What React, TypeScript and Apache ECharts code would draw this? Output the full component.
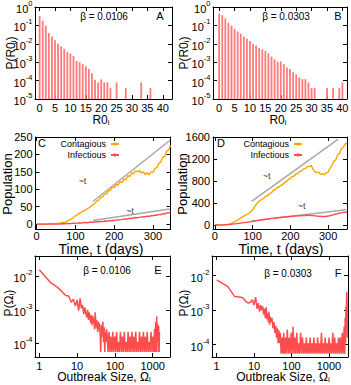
import React, { useEffect, useRef } from 'react';
import * as echarts from 'echarts';

const FONT = '"Liberation Sans", Arial, Helvetica, sans-serif';
const ORANGE = '#ffa500';
const RED = '#ff4d4d';
const BAR = '#ff7b7b';
const GRAY = '#a8a8a8';

// ---------- Panel A : distribution of R0_i, beta = 0.0106 ----------
const aR0 = [0, 1, 2, 3, 4, 5, 6, 7, 8, 9, 10, 11, 12, 13, 14, 15, 16, 17, 18, 19, 20, 21, 22, 23, 25, 28, 33, 36];
const aP = [0.33, 0.18, 0.098, 0.038, 0.025, 0.0155, 0.01, 0.0074, 0.0054, 0.0037, 0.003, 0.0022, 0.00117, 0.001,
  0.00079, 0.0006, 0.00043, 0.00025, 0.000112, 0.00008, 0.000115, 0.00008, 0.00008, 0.00004, 0.00008, 0.00004,
  0.00008, 0.00004];

// ---------- Panel B : distribution of R0_i, beta = 0.0303 ----------
const bR0 = [0, 1, 2, 3, 4, 5, 6, 7, 8, 9, 10, 11, 12, 13, 14, 15, 16, 17, 18, 19, 20, 21, 22, 23, 24, 25, 26, 27, 28,
  29, 30, 31, 35, 37, 39, 40];
const bP = [0.45, 0.36, 0.24, 0.14, 0.098, 0.065, 0.047, 0.035, 0.025, 0.019, 0.014, 0.01, 0.0081, 0.006, 0.005,
  0.0041, 0.003, 0.002, 0.00145, 0.00105, 0.0011, 0.00079, 0.00052, 0.00043, 0.00028, 0.00022, 0.00015, 0.00012,
  0.00012, 0.00008, 0.00004, 0.00004, 0.00004, 0.00004, 0.00004, 0.00008];

// ---------- Panel C : population vs time, beta = 0.0106 ----------
const cDays = [0, 5, 10, 15, 20, 25, 30, 35, 40, 45, 50, 55, 60, 65, 70, 75, 80, 85, 90, 95, 100, 105, 110, 115, 120,
  125, 130, 135, 140, 145, 150, 155, 160, 165, 170, 175, 180, 185, 190, 195, 200, 205, 210, 215, 220, 225, 230, 235,
  240, 245, 250, 255, 260, 265, 270, 275, 280, 285, 290, 295, 300, 305, 310, 315, 320, 325, 330, 335, 340, 345];
const cContagious = [0, 0, 0, 0, 0, 0, 1, 1, 1, 1, 2, 2, 3, 4, 5, 6, 9, 12, 15, 19, 24, 27, 31, 34, 37, 40, 44, 47,
  51, 56, 60, 66, 69, 76, 78, 86, 87, 96, 96, 106, 105, 114, 112, 122, 119, 130, 127, 139, 136, 147, 144, 153, 150,
  154, 147, 150, 142, 147, 142, 150, 148, 160, 162, 175, 178, 192, 194, 210, 212, 226];
const cInfectious = [0, 0, 0, 0, 0, 0, 0, 0, 0, 0, 0, 0, 0, 1, 1, 1, 2, 1, 2, 3, 2, 3, 4, 3, 4, 5, 4, 5, 6, 5, 6, 7,
  6, 8, 7, 9, 8, 10, 9, 11, 10, 12, 12, 13, 13, 15, 14, 16, 16, 17, 17, 19, 18, 20, 20, 21, 21, 23, 22, 24, 24, 26,
  25, 28, 27, 30, 29, 32, 32, 35];
const cGuideUpper = [[145, 65], [343, 240]];
const cGuideLower = [[145, 10.5], [343, 43.6]];
const cTildeAnchors = [[118, 124], [240, 39]];

// ---------- Panel D : population vs time, beta = 0.0303 ----------
const dDays = [0, 5, 10, 15, 20, 25, 30, 35, 40, 45, 50, 55, 60, 65, 70, 75, 80, 85, 90, 95, 100, 105, 110, 115, 120,
  125, 130, 135, 140, 145, 150, 155, 160, 165, 170, 175, 180, 185, 190, 195, 200, 205, 210, 215, 220, 225, 230, 235,
  240, 245, 250, 255, 260, 265, 270, 275, 280, 285, 290, 295, 300, 305, 310, 315, 320, 325, 330, 335, 340, 345, 350];
const dContagious = [0, 0, 0, 0, 1, 2, 4, 8, 15, 30, 48, 68, 88, 110, 132, 152, 172, 190, 212, 240, 275, 330, 375,
  420, 440, 470, 488, 520, 530, 570, 585, 630, 640, 680, 690, 720, 735, 775, 790, 830, 840, 885, 890, 930, 935, 975,
  980, 1020, 1025, 1065, 1060, 1085, 1010, 970, 950, 960, 920, 935, 910, 950, 960, 1030, 1080, 1160, 1180, 1270, 1300,
  1390, 1410, 1470, 1490];
const dInfectious = [0, 0, 0, 0, 1, 2, 4, 6, 9, 12, 18, 19, 27, 27, 36, 36, 45, 45, 55, 55, 65, 66, 77, 78, 88, 88, 99,
  98, 109, 108, 119, 118, 127, 126, 135, 134, 143, 141, 150, 148, 156, 154, 161, 159, 166, 164, 171, 168, 175, 172,
  178, 172, 173, 163, 163, 155, 157, 151, 155, 153, 163, 166, 179, 183, 198, 203, 215, 218, 229, 228, 235];
const dGuideUpper = [[97, 427], [326, 1557]];
const dGuideLower = [[97, 73], [348, 275]];
const dTildeAnchors = [[137, 885], [230, 335]];

// ---------- Panel E : outbreak size distribution, beta = 0.0106 ----------
const eSize = [1, 2, 3, 4, 5, 6, 7, 8, 9, 10, 11, 12, 13, 14, 15, 16, 17, 18, 19, 20, 21, 22, 23, 24, 25, 26, 27, 28,
  29, 30, 32, 33, 35, 36, 38, 39, 41, 42, 44, 46, 48, 50, 52, 54, 56, 58, 60, 63, 66,
  70, 74, 78, 83, 88, 93, 99, 105, 111, 118,
  125, 132, 140, 149, 158, 167, 177, 188, 199, 211,
  224, 237, 251, 266, 282, 299, 317, 336, 356, 377,
  400, 424, 449, 476, 505, 535, 567, 601, 637, 675,
  716, 759, 804, 852, 903, 957, 1015, 1076,
  1120, 1160, 1200, 1240, 1280, 1320, 1360, 1400, 1440, 1480, 1510];
const eP = [1.6e-2, 6.5e-3, 4.8e-3, 3.5e-3, 2.7e-3, 2.6e-3, 1.7e-3, 2.1e-3, 1.3e-3, 2.0e-3, 9.5e-4, 2.2e-3, 1.1e-3,
  1.4e-3, 7.5e-4, 1.2e-3, 8.0e-4, 6.0e-4, 1.0e-3, 5.0e-4, 8.5e-4, 6.0e-4, 4.0e-4, 7.0e-4, 3.5e-4, 6.5e-4, 4.0e-4,
  5.5e-4, 2.6e-4, 8.5e-4, 3.0e-4, 5.0e-4, 2.2e-4, 4.5e-4, 2.6e-4, 4.0e-4, 1.6e-4, 5.5e-5, 3.5e-4, 1.6e-4, 4.4e-4,
  1.1e-4, 3.0e-4, 5.5e-5, 2.2e-4, 1.1e-4, 2.7e-4, 1.6e-4, 5.5e-5,
  2.2e-4, 5.5e-5, 1.6e-4, 5.5e-5, 2.2e-4, 5.5e-5, 1.6e-4, 5.5e-5, 2.2e-4, 5.5e-5,
  1.1e-4, 5.5e-5, 2.2e-4, 5.5e-5, 1.6e-4, 5.5e-5, 2.2e-4, 5.5e-5, 1.1e-4, 5.5e-5,
  2.2e-4, 5.5e-5, 1.6e-4, 5.5e-5, 2.2e-4, 5.5e-5, 1.6e-4, 5.5e-5, 2.2e-4, 5.5e-5,
  1.1e-4, 5.5e-5, 2.2e-4, 5.5e-5, 1.6e-4, 5.5e-5, 2.2e-4, 5.5e-5, 1.6e-4, 5.5e-5,
  2.2e-4, 5.5e-5, 1.1e-4, 5.5e-5, 2.2e-4, 5.5e-5, 1.6e-4, 5.5e-5,
  2.7e-4, 5.5e-5, 4.4e-4, 5.5e-5, 6.5e-4, 1.1e-4, 3.8e-4, 5.5e-5, 3.3e-4, 5.5e-5, 2.2e-4];

// ---------- Panel F : outbreak size distribution, beta = 0.0303 ----------
const fSize = [1, 2, 3, 4, 5, 6, 7, 8, 9, 10, 11, 12, 13, 14, 15, 16, 17, 18, 19, 20, 21, 22, 23, 24, 25, 26, 27, 28,
  30, 32, 34, 36, 38, 40, 42, 44, 46, 48, 50, 53, 56, 59, 62, 65,
  69, 73, 77, 82, 87, 92, 98, 104, 110, 117,
  124, 131, 139, 147, 156, 165, 175, 186, 197, 209,
  221, 235, 249, 264, 280, 296, 314, 333, 353, 374,
  396, 420, 445, 472, 500, 530, 562, 596, 632, 670,
  710, 752, 797, 845, 896, 950, 1007, 1067, 1131, 1199,
  1271, 1347, 1428, 1514, 1605, 1701, 1803, 1911, 2026, 2147,
  2276, 2413, 2560, 2650, 2720, 2790, 2860, 2920, 2980, 3050, 3120];
const fP = [7.5e-3, 4.8e-3, 2.5e-3, 2.4e-3, 2.3e-3, 1.8e-3, 1.6e-3, 1.7e-3, 2.0e-3, 1.4e-3,
  2.4e-3, 1.1e-3, 1.6e-3, 9.0e-4, 1.4e-3, 1.0e-3, 1.3e-3, 7.5e-4, 1.1e-3, 6.0e-4,
  1.2e-3, 5.5e-4, 8.0e-4, 4.5e-4, 9.0e-4, 3.8e-4, 6.5e-4, 4.5e-4,
  6.0e-4, 3.0e-4, 4.5e-4, 2.2e-4, 3.5e-4, 1.6e-4, 3.0e-4, 1.1e-4, 2.6e-4, 1.1e-4, 2.2e-4, 5.5e-5, 1.6e-4, 5.5e-5,
  2.2e-4, 5.5e-5,
  1.6e-4, 5.5e-5, 2.7e-4, 5.5e-5, 1.6e-4, 5.5e-5, 2.2e-4, 5.5e-5, 3.3e-4, 5.5e-5,
  1.6e-4, 5.5e-5, 2.2e-4, 5.5e-5, 1.1e-4, 5.5e-5, 2.2e-4, 5.5e-5, 1.6e-4, 5.5e-5,
  1.1e-4, 5.5e-5, 1.6e-4, 5.5e-5, 1.1e-4, 5.5e-5, 1.6e-4, 5.5e-5, 1.1e-4, 5.5e-5,
  1.6e-4, 5.5e-5, 1.1e-4, 5.5e-5, 1.6e-4, 5.5e-5, 1.1e-4, 5.5e-5, 2.2e-4, 5.5e-5,
  1.1e-4, 5.5e-5, 1.6e-4, 5.5e-5, 1.1e-4, 5.5e-5, 1.6e-4, 5.5e-5, 1.1e-4, 5.5e-5,
  2.2e-4, 5.5e-5, 1.6e-4, 5.5e-5, 1.1e-4, 5.5e-5, 1.6e-4, 5.5e-5, 1.6e-4, 5.5e-5,
  2.2e-4, 5.5e-5, 3.3e-4, 5.5e-5, 6.0e-4, 1.1e-4, 1.3e-3, 3.0e-4, 3.4e-3, 2.2e-3, 1.6e-4];

// ---------- tick values ----------
const r0Ticks = [0, 5, 10, 15, 20, 25, 30, 35, 40];
const r0ProbTicks = [1e-5, 1e-4, 1e-3, 1e-2, 1e-1, 1];
const dayTicks = [0, 100, 200, 300];
const cPopTicks = [0, 50, 100, 150, 200, 250];
const dPopTicks = [0, 400, 800, 1200, 1600];
const sizeTicks = [1, 10, 100, 1000];
const sizeProbTicks = [1e-4, 1e-3, 1e-2];

const pairs = (xs: number[], ys: number[]) => xs.map((x, i) => [x, ys[i]]);

const grids = [
  { left: 35, top: 7, width: 137, height: 92 },
  { left: 213, top: 7, width: 134, height: 92 },
  { left: 35.5, top: 137, width: 135, height: 92 },
  { left: 213, top: 137, width: 134, height: 92 },
  { left: 35, top: 256, width: 135, height: 101 },
  { left: 212, top: 256, width: 136, height: 101 },
];

const powRich = {
  b: { fontSize: 11, fontFamily: FONT, color: '#000', lineHeight: 15, verticalAlign: 'bottom' },
  s: { fontSize: 7.5, fontFamily: FONT, color: '#000', lineHeight: 8, verticalAlign: 'top' },
};
const powFmt = (v: number) => `{b|10}{s|${Math.round(Math.log10(v))}}`;
const plainFmt = (v: number) => String(v);

type Ax = { type: 'value' | 'log'; min: number; max: number; ticks: number[]; fmt?: any; rich?: any; margin?: number };

function axisBase(g: number, c: Ax) {
  return {
    gridIndex: g,
    type: c.type,
    min: c.min,
    max: c.max,
    logBase: 10,
    splitLine: { show: false },
    axisLine: { show: true, onZero: false, lineStyle: { color: '#000', width: 1 } },
    axisTick: { show: true, inside: true, length: 4, lineStyle: { color: '#000', width: 1 }, customValues: c.ticks },
  };
}
function label(c: Ax) {
  return {
    show: true, customValues: c.ticks, margin: c.margin ?? 3, fontSize: 11, lineHeight: 11, fontFamily: FONT,
    color: '#000', formatter: c.fmt ?? plainFmt, rich: c.rich,
  };
}
function xPair(g: number, c: Ax) {
  const base = axisBase(g, c);
  return [
    { ...base, position: 'bottom', axisLabel: label(c) },
    { ...base, position: 'top', axisLabel: { show: false } },
  ];
}
function yPair(g: number, c: Ax) {
  const base = axisBase(g, c);
  return [
    { ...base, position: 'left', axisLabel: label(c) },
    { ...base, position: 'right', axisLabel: { show: false } },
  ];
}

const barRender = (params: any, api: any) => {
  const x = api.value(0);
  const y = api.value(1);
  const top = api.coord([x, y]);
  const base = api.coord([x, 1e-5]);
  const w = 1.8;
  return {
    type: 'rect',
    shape: { x: top[0] - w / 2, y: top[1], width: w, height: base[1] - top[1] },
    style: { fill: BAR },
  };
};

function txt(x: number, y: number, text: string, size: number, rotate = false) {
  return {
    type: 'text', x, y, silent: true, rotation: rotate ? Math.PI / 2 : 0,
    style: {
      text, fontSize: size, lineHeight: size, fontFamily: FONT, fill: '#000', align: 'center', verticalAlign: 'middle',
    },
  };
}
const subRich = (size: number) => ({
  a: { fontSize: size, fontFamily: FONT, fill: '#000', lineHeight: size + 1 },
  i: { fontSize: size - 4, fontFamily: FONT, fill: '#000', lineHeight: size - 5, verticalAlign: 'bottom' },
});
function richTxt(x: number, y: number, text: string, size: number, rotate = false) {
  return {
    type: 'text', x, y, silent: true, rotation: rotate ? Math.PI / 2 : 0,
    style: { text, rich: subRich(size), align: 'center', verticalAlign: 'middle' },
  };
}

function lineSeries(name: string, g: number, data: number[][], color: string, width: number) {
  return {
    type: 'line', name, xAxisIndex: 2 * g, yAxisIndex: 2 * g, data, showSymbol: false, symbol: 'none',
    lineStyle: { color, width }, itemStyle: { color }, silent: true, z: 3,
  };
}
function tildeSeries(g: number, data: number[][]) {
  return {
    type: 'scatter', name: 'tilde' + g, xAxisIndex: 2 * g, yAxisIndex: 2 * g, data, symbolSize: 0, silent: true,
    label: { show: true, position: 'inside', formatter: '~t', fontSize: 9, fontFamily: FONT, color: '#000' },
  };
}

const legendBase = {
  data: ['Contagious', 'Infectious'], orient: 'vertical', align: 'right', top: 139,
  itemWidth: 8, itemHeight: 4, itemGap: 1, padding: 0, selectedMode: false,
  textStyle: { fontSize: 9, fontFamily: FONT, color: '#000', lineHeight: 10 },
};

const option: any = {
  animation: false,
  textStyle: { fontFamily: FONT },
  grid: grids.map((g) => ({ ...g, containLabel: false, outerBoundsMode: 'none' })),
  xAxis: [
    ...xPair(0, { type: 'value', min: -1.5, max: 43, ticks: r0Ticks, margin: 3 }),
    ...xPair(1, { type: 'value', min: -2, max: 41.5, ticks: r0Ticks, margin: 3 }),
    ...xPair(2, { type: 'value', min: -3, max: 345, ticks: dayTicks, margin: 1 }),
    ...xPair(3, { type: 'value', min: -5, max: 350, ticks: dayTicks, margin: 1 }),
    ...xPair(4, { type: 'log', min: 0.77, max: 2870, ticks: sizeTicks }),
    ...xPair(5, { type: 'log', min: 0.75, max: 3240, ticks: sizeTicks }),
  ],
  yAxis: [
    ...yPair(0, { type: 'log', min: 1e-5, max: 1, ticks: r0ProbTicks, fmt: powFmt, rich: powRich, margin: 2.5 }),
    ...yPair(1, { type: 'log', min: 1e-5, max: 1, ticks: r0ProbTicks, fmt: powFmt, rich: powRich, margin: 2.5 }),
    ...yPair(2, { type: 'value', min: -14, max: 250, ticks: cPopTicks }),
    ...yPair(3, { type: 'value', min: -75, max: 1600, ticks: dPopTicks }),
    ...yPair(4, { type: 'log', min: 3.9e-5, max: 0.041, ticks: sizeProbTicks, fmt: powFmt, rich: powRich, margin: 2.5 }),
    ...yPair(5, { type: 'log', min: 4.4e-5, max: 0.037, ticks: sizeProbTicks, fmt: powFmt, rich: powRich, margin: 2.5 }),
  ],
  legend: [
    { ...legendBase, right: 231 },
    { ...legendBase, right: 48 },
  ],
  series: [
    { type: 'custom', name: 'A', xAxisIndex: 0, yAxisIndex: 0, data: pairs(aR0, aP), renderItem: barRender, silent: true, encode: { x: 0, y: 1 } },
    { type: 'custom', name: 'B', xAxisIndex: 2, yAxisIndex: 2, data: pairs(bR0, bP), renderItem: barRender, silent: true, encode: { x: 0, y: 1 } },

    lineSeries('guideC1', 2, cGuideUpper, GRAY, 1.5),
    lineSeries('guideC2', 2, cGuideLower, GRAY, 1.5),
    lineSeries('Contagious', 2, pairs(cDays, cContagious), ORANGE, 1.4),
    lineSeries('Infectious', 2, pairs(cDays, cInfectious), RED, 1.4),
    tildeSeries(2, cTildeAnchors),

    lineSeries('guideD1', 3, dGuideUpper, GRAY, 1.5),
    lineSeries('guideD2', 3, dGuideLower, GRAY, 1.5),
    lineSeries('Contagious', 3, pairs(dDays, dContagious), ORANGE, 1.4),
    lineSeries('Infectious', 3, pairs(dDays, dInfectious), RED, 1.4),
    tildeSeries(3, dTildeAnchors),

    lineSeries('E', 4, pairs(eSize, eP), RED, 1.5),
    lineSeries('F', 5, pairs(fSize, fP), RED, 1.5),
  ],
  graphic: [
    txt(104, 16, 'β = 0.0106', 10),
    txt(160, 16, 'A', 11),
    txt(286, 16, 'β = 0.0303', 10),
    txt(338, 16, 'B', 11),
    txt(42, 143, 'C', 11),
    txt(221, 143, 'D', 11),
    txt(107, 270, 'β = 0.0106', 10),
    txt(158, 270, 'E', 11),
    txt(288, 273, 'β = 0.0303', 10),
    txt(338, 273, 'F', 11),

    richTxt(11, 53, '{a|P(R0}{i|i}{a|)}', 12, true),
    richTxt(101, 120, '{a|R0}{i|i}', 12),
    richTxt(184, 53, '{a|P(R0}{i|i}{a|)}', 12, true),
    richTxt(278, 120, '{a|R0}{i|i}', 12),
    txt(7, 184, 'Population', 13, true),
    txt(101, 249, 'Time, t (days)', 14),
    txt(182, 184, 'Population', 13, true),
    txt(281, 249, 'Time, t (days)', 14),
    richTxt(9, 303, '{a|P(Ω}{i|i}{a|)}', 12, true),
    richTxt(104, 377, '{a|Outbreak Size, Ω}{i|i}', 12),
    richTxt(184, 303, '{a|P(Ω}{i|i}{a|)}', 12, true),
    richTxt(283, 377, '{a|Outbreak Size, Ω}{i|i}', 12),
  ],
};

export default function App() {
  const ref = useRef<HTMLDivElement>(null);
  useEffect(() => {
    const chart = echarts.init(ref.current as HTMLDivElement, null, { renderer: 'svg' });
    chart.setOption(option);
    return () => chart.dispose();
  }, []);
  return <div ref={ref} style={{ position: 'absolute', left: 0, top: 0, width: 351, height: 385 }} />;
}
